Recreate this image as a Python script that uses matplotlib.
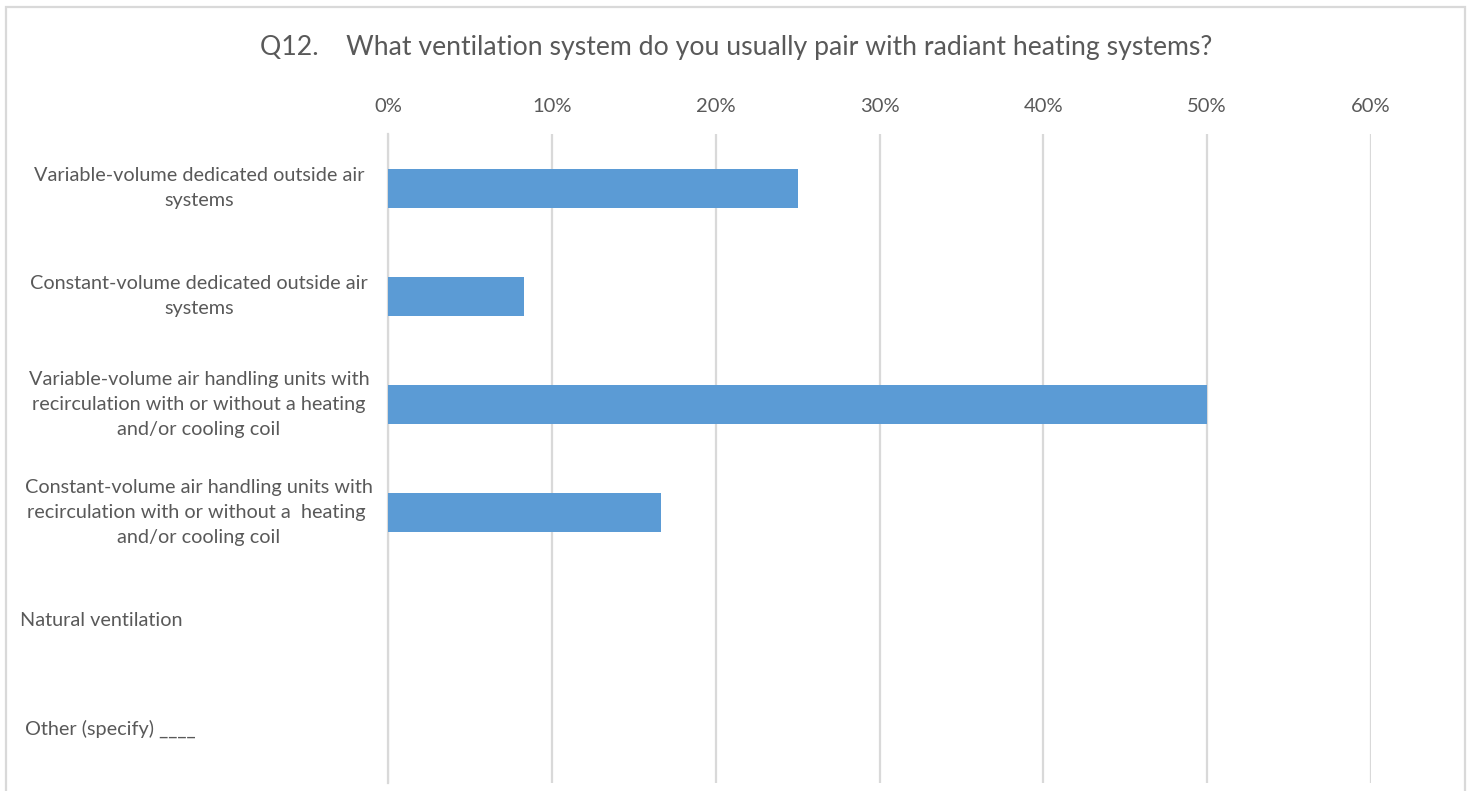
import matplotlib
matplotlib.use("Agg")
import matplotlib.pyplot as plt
import matplotlib.transforms as mtransforms
from matplotlib.patches import Rectangle

categories = [
    "Variable-volume dedicated outside air\nsystems",
    "Constant-volume dedicated outside air\nsystems",
    "Variable-volume air handling units with\nrecirculation with or without a heating\nand/or cooling coil",
    "Constant-volume air handling units with\nrecirculation with or without a  heating \nand/or cooling coil",
    "Natural ventilation",
    " Other (specify) ____",
]
values = [25.0, 8.33, 50.0, 16.67, 0.0, 0.0]
xticks = [0, 10, 20, 30, 40, 50, 60]
xtick_labels = ["0%", "10%", "20%", "30%", "40%", "50%", "60%"]
title = "Q12.    What ventilation system do you usually pair with radiant heating systems?"

plt.rcParams['font.family'] = ['Lato', 'DejaVu Sans']
text_color = "#595959"
grid_color = "#D9D9D9"
bar_color = "#5B9BD5"

W, H = 1473, 791
fig = plt.figure(figsize=(W / 100, H / 100), dpi=100)
ax = fig.add_axes([388 / W, 1 - 783 / H, (1371 - 388) / W, (783 - 134) / H])

n = len(categories)
ypos = list(range(n))
ax.barh(ypos, values, height=0.36, color=bar_color, zorder=3)
ax.set_ylim(n - 0.5, -0.5)
ax.set_xlim(0, 60)
ax.set_xticks(xticks)
ax.set_xticklabels(xtick_labels, fontsize=14.5, color=text_color)
ax.xaxis.tick_top()
ax.tick_params(axis='x', length=0, pad=14)
ax.set_yticks([])
ax.grid(axis='x', color=grid_color, linewidth=1.6, zorder=0)
for s in ["top", "right", "bottom"]:
    ax.spines[s].set_visible(False)
ax.spines["left"].set_color(grid_color)
ax.spines["left"].set_linewidth(1.6)

trans = mtransforms.blended_transform_factory(fig.transFigure, ax.transData)
for i, lab in enumerate(categories):
    if "\n" in lab:
        ax.text(199 / W, i, lab, transform=trans, ha="center", va="center",
                multialignment="center", fontsize=14.3, color=text_color,
                linespacing=1.55)
    else:
        ax.text(20 / W, i, lab, transform=trans, ha="left", va="center",
                fontsize=14.3, color=text_color)

fig.text(736 / W, 1 - 48 / H, title, ha="center", va="center",
         fontsize=19.2, color=text_color)

fig.patches.append(Rectangle((6 / W, -0.05), (1465 - 6) / W, 1.05 - 7 / H,
                             transform=fig.transFigure, fill=False,
                             edgecolor=grid_color, linewidth=1.6))

fig.savefig("out.png", dpi=100, facecolor="white")
